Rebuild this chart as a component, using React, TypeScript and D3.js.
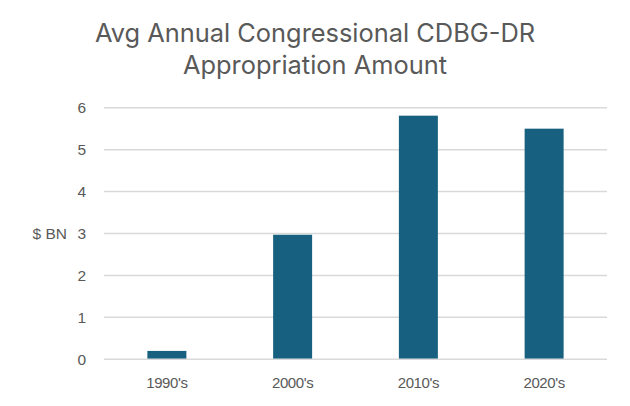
import * as React from 'react';
import * as d3 from 'd3';

const decades = ["1990's", "2000's", "2010's", "2020's"];
const amounts = [0.2, 2.97, 5.81, 5.5];
const yTicks = [0, 1, 2, 3, 4, 5, 6];
const titleLines = ['Avg Annual Congressional CDBG-DR', 'Appropriation Amount'];

const App: React.FC = () => {
  const width = 630;
  const height = 406;
  const left = 104;
  const right = 607;
  const top = 107.7;
  const bottom = 359.3;

  const x = d3.scaleBand<string>()
    .domain(decades)
    .range([left, right])
    .paddingInner(0.69)
    .paddingOuter(0.345);

  const y = d3.scaleLinear().domain([0, 6]).range([bottom, top]);

  const axisFont = '"Liberation Sans", Arial, sans-serif';

  return (
    <div style={{ margin: -8 }}>
      <svg width={width} height={height} style={{ display: 'block', background: '#fff' }}>
        {titleLines.map((t, i) => (
          <text key={t} x={315} y={41.7 + i * 32.3} textAnchor="middle"
            fontFamily='Inter, "Open Sans", sans-serif' fontSize={25.4} fill="#595959">{t}</text>
        ))}
        {yTicks.map(t => (
          <g key={t}>
            <line x1={left} x2={right} y1={y(t)} y2={y(t)} stroke="#d9d9d9" strokeWidth={1.5} />
            <text x={86} y={y(t) + 5.5} textAnchor="end" fontFamily={axisFont} fontSize={15.5} fill="#595959">{t}</text>
          </g>
        ))}
        <text x={67} y={y(3) + 5.5} textAnchor="end" fontFamily={axisFont} fontSize={15.5} fill="#595959">$ BN</text>
        {decades.map((d, i) => (
          <rect key={d} x={x(d)} y={y(amounts[i])} width={x.bandwidth()}
            height={y(0) - y(amounts[i]) - 0.75} fill="#17607f" />
        ))}
        {decades.map(d => (
          <text key={d} x={(x(d) ?? 0) + x.bandwidth() / 2} y={387.7} textAnchor="middle"
            fontFamily={axisFont} fontSize={15} letterSpacing={-0.4} fill="#595959">{d}</text>
        ))}
      </svg>
    </div>
  );
};

export default App;
